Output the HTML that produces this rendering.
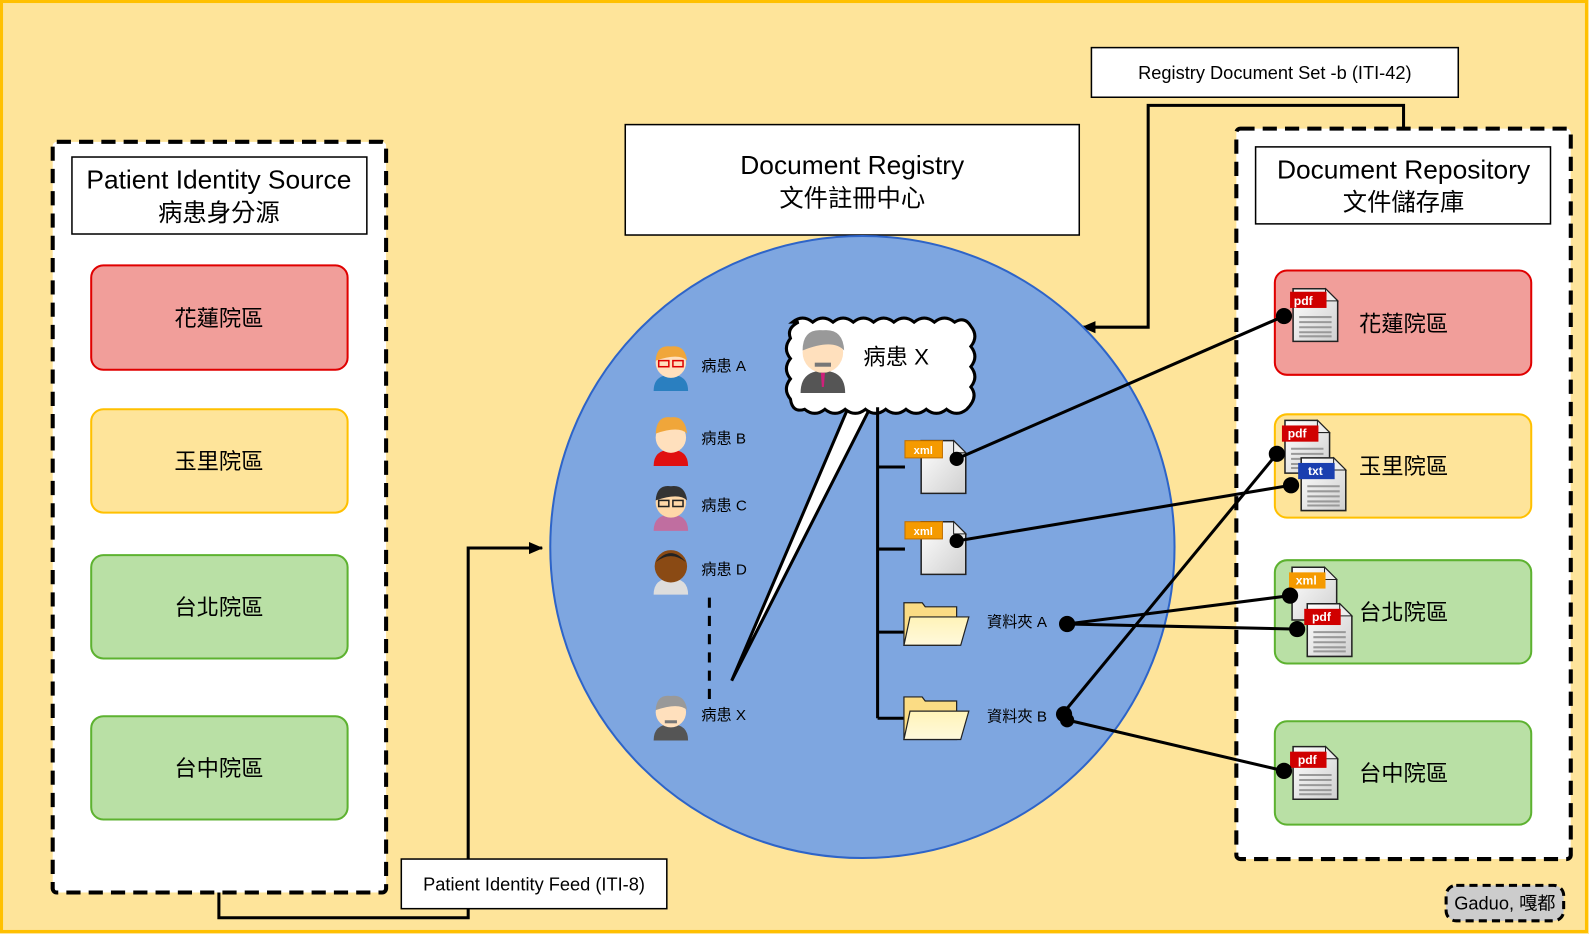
<!DOCTYPE html>
<html><head><meta charset="utf-8"><style>
html,body{margin:0;padding:0;background:#FEE49A;overflow:hidden;width:1589px;height:934px;}
svg{display:block;position:absolute;left:0;top:0;}
text{font-family:"Liberation Sans","Noto Sans CJK TC",sans-serif;}
</style></head><body>
<svg width="1589" height="934" viewBox="0 0 1568 922" preserveAspectRatio="none" xmlns="http://www.w3.org/2000/svg">
<defs>
<linearGradient id="pg" x1="0" y1="0" x2="1" y2="1"><stop offset="0" stop-color="#ffffff"/><stop offset="1" stop-color="#cfcfcf"/></linearGradient>
<linearGradient id="fg" x1="0" y1="0" x2="0" y2="1"><stop offset="0" stop-color="#fff3b8"/><stop offset="1" stop-color="#fff9dc"/></linearGradient>
<g id="page"><polygon points="0,0 32,0 44,12 44,52 0,52" fill="url(#pg)" stroke="#222" stroke-width="1.5"/><polygon points="32,0 32,12 44,12" fill="#eee" stroke="#222" stroke-width="1"/></g>
<g id="lines"><g stroke="#999" stroke-width="2"><line x1="6" y1="28" x2="38" y2="28"/><line x1="6" y1="33" x2="38" y2="33"/><line x1="6" y1="38" x2="38" y2="38"/><line x1="6" y1="43" x2="38" y2="43"/><line x1="6" y1="47" x2="38" y2="47"/></g></g>
<g id="folder"><path d="M0,0 L18,0 L21,4 L52,4 L52,42 L0,42 Z" fill="#fbdc84" stroke="#222" stroke-width="1.2"/><polygon points="6,14 64,14 56,42 0,42" fill="url(#fg)" stroke="#222" stroke-width="1.2"/></g>
<marker id="ar" markerWidth="14" markerHeight="14" refX="13" refY="7" orient="auto" markerUnits="userSpaceOnUse"><polygon points="0,1 14,7 0,13" fill="#000"/></marker>
</defs>
<rect x="1.5" y="1.5" width="1564" height="918" fill="#FEE49A" stroke="#FFC000" stroke-width="3"/>

<polyline points="216,881 216,906 462,906 462,541 535,541" fill="none" stroke="#000" stroke-width="3" marker-end="url(#ar)"/>
<polyline points="1385,127 1385,104 1133,104 1133,323 1068,323" fill="none" stroke="#000" stroke-width="3" marker-end="url(#ar)"/>

<rect x="52" y="140" width="329" height="741" rx="4" fill="#fff" stroke="#000" stroke-width="4" stroke-dasharray="14,8"/>
<rect x="71" y="155" width="291" height="76" fill="#fff" stroke="#000" stroke-width="1.5"/>
<text x="216" y="186" font-size="26" text-anchor="middle">Patient Identity Source</text>
<text x="216" y="218" font-size="24" text-anchor="middle">病患身分源</text>
<rect x="90" y="262" width="253" height="103" rx="12" fill="#F19E9A" stroke="#E00000" stroke-width="2"/>
<text x="216" y="322" font-size="22" text-anchor="middle">花蓮院區</text>
<rect x="90" y="404" width="253" height="102" rx="12" fill="#FEE49A" stroke="#FFC000" stroke-width="2"/>
<text x="216" y="463" font-size="22" text-anchor="middle">玉里院區</text>
<rect x="90" y="548" width="253" height="102" rx="12" fill="#B9E0A5" stroke="#5DB230" stroke-width="2"/>
<text x="216" y="607" font-size="22" text-anchor="middle">台北院區</text>
<rect x="90" y="707" width="253" height="102" rx="12" fill="#B9E0A5" stroke="#5DB230" stroke-width="2"/>
<text x="216" y="766" font-size="22" text-anchor="middle">台中院區</text>

<rect x="1220" y="127" width="330" height="721" rx="4" fill="#fff" stroke="#000" stroke-width="4" stroke-dasharray="14,8"/>
<rect x="1239" y="145" width="291" height="76" fill="#fff" stroke="#000" stroke-width="1.5"/>
<text x="1385" y="176" font-size="26" text-anchor="middle">Document Repository</text>
<text x="1385" y="208" font-size="24" text-anchor="middle">文件儲存庫</text>
<rect x="1258" y="267" width="253" height="103" rx="12" fill="#F19E9A" stroke="#E00000" stroke-width="2"/>
<text x="1385" y="327" font-size="22" text-anchor="middle">花蓮院區</text>
<rect x="1258" y="409" width="253" height="102" rx="12" fill="#FEE49A" stroke="#FFC000" stroke-width="2"/>
<text x="1385" y="468" font-size="22" text-anchor="middle">玉里院區</text>
<rect x="1258" y="553" width="253" height="102" rx="12" fill="#B9E0A5" stroke="#5DB230" stroke-width="2"/>
<text x="1385" y="612" font-size="22" text-anchor="middle">台北院區</text>
<rect x="1258" y="712" width="253" height="102" rx="12" fill="#B9E0A5" stroke="#5DB230" stroke-width="2"/>
<text x="1385" y="771" font-size="22" text-anchor="middle">台中院區</text>

<rect x="617" y="123" width="448" height="109" fill="#fff" stroke="#000" stroke-width="1.5"/>
<text x="841" y="172" font-size="26" text-anchor="middle">Document Registry</text>
<text x="841" y="204" font-size="24" text-anchor="middle">文件註冊中心</text>
<ellipse cx="851" cy="540" rx="308" ry="307" fill="#7EA6E0" stroke="#2E64C8" stroke-width="2"/>

<rect x="1077" y="47" width="362" height="49" fill="#fff" stroke="#000" stroke-width="1.5"/>
<text x="1258" y="78" font-size="18" text-anchor="middle">Registry Document Set -b (ITI-42)</text>
<rect x="396" y="848" width="262" height="49" fill="#fff" stroke="#000" stroke-width="1.5"/>
<text x="527" y="879" font-size="18" text-anchor="middle">Patient Identity Feed (ITI-8)</text>
<rect x="1427" y="874" width="116" height="35" rx="10" fill="#cccccc" stroke="#000" stroke-width="3" stroke-dasharray="8,5"/>
<text x="1485" y="898" font-size="18" text-anchor="middle">Gaduo, 嘎都</text>

<g font-size="15">
<g transform="translate(662,362)"><path d="M-17,24 Q-17,8 0,8 Q17,8 17,24 Z" fill="#2a7fc0"/><circle cx="0" cy="-4" r="15" fill="#ffe0bd"/><path d="M-15,-6 Q-14,-22 0,-20 Q14,-22 16,-6 Q8,-14 -15,-6Z" fill="#f0a63a"/><rect x="-12" y="-6" width="10" height="6" fill="none" stroke="#d00" stroke-width="1.5"/><rect x="2" y="-6" width="10" height="6" fill="none" stroke="#d00" stroke-width="1.5"/></g>
<text x="692" y="366">病患 A</text>
<g transform="translate(662,434)"><path d="M-17,26 Q-17,10 0,10 Q17,10 17,26 Z" fill="#e01010"/><circle cx="0" cy="-2" r="15" fill="#ffe0bd"/><path d="M-15,-6 Q-14,-24 0,-22 Q14,-24 16,-6 Q8,-14 -15,-6Z" fill="#f0a63a"/></g>
<text x="692" y="438">病患 B</text>
<g transform="translate(662,500)"><path d="M-17,24 Q-17,8 0,8 Q17,8 17,24 Z" fill="#c06ea0"/><circle cx="0" cy="-4" r="15" fill="#ffd8a8"/><path d="M-15,-6 Q-14,-22 0,-20 Q14,-22 16,-6 Q8,-14 -15,-6Z" fill="#333"/><rect x="-12" y="-6" width="10" height="6" fill="none" stroke="#222" stroke-width="1.5"/><rect x="2" y="-6" width="10" height="6" fill="none" stroke="#222" stroke-width="1.5"/></g>
<text x="692" y="504">病患 C</text>
<g transform="translate(662,563)"><path d="M-17,24 Q-17,8 0,8 Q17,8 17,24 Z" fill="#ddd"/><circle cx="0" cy="-4" r="16" fill="#8a4a14"/><path d="M-15,-8 Q0,-26 15,-8 Q0,-20 -15,-8Z" fill="#222"/></g>
<text x="692" y="567">病患 D</text>
<line x1="700" y1="590" x2="700" y2="690" stroke="#000" stroke-width="3" stroke-dasharray="10,8"/>
<g transform="translate(662,707)"><path d="M-17,24 Q-17,8 0,8 Q17,8 17,24 Z" fill="#555"/><circle cx="0" cy="-4" r="15" fill="#ffe0bd"/><path d="M-15,-6 Q-14,-22 0,-20 Q14,-22 16,-6 Q8,-14 -15,-6Z" fill="#999"/><rect x="-6" y="4" width="12" height="3" fill="#777"/></g>
<text x="692" y="711">病患 X</text>
</g>

<polygon points="838,400 860,400 722,672" fill="#fff" stroke="#000" stroke-width="3"/>
<path d="M782,318 q10,-8 20,0 q10,-8 20,0 q10,-8 20,0 q10,-8 20,0 q10,-8 20,0 q10,-8 20,0 q10,-8 20,0 q10,-8 20,0 q10,-6 16,4 q8,10 0,20 q8,10 0,20 q8,10 0,20 q8,10 -4,22 q-10,8 -20,0 q-10,8 -20,0 q-10,8 -20,0 q-10,8 -20,0 q-10,8 -20,0 q-10,8 -20,0 q-10,8 -20,0 q-10,8 -20,0 q-12,4 -14,-10 q-8,-10 0,-20 q-8,-10 0,-20 q-8,-10 0,-20 q-4,-10 8,-16 Z" fill="#fff" stroke="#000" stroke-width="3"/>
<g transform="translate(812,352)"><path d="M-22,36 Q-22,14 0,14 Q22,14 22,36 Z" fill="#555"/><circle cx="0" cy="-4" r="20" fill="#ffe0bd"/><path d="M-20,-6 Q-20,-28 0,-26 Q20,-28 21,-6 Q10,-18 -20,-6Z" fill="#999"/><rect x="-8" y="6" width="16" height="4" fill="#777"/><polygon points="-2,16 2,16 1,30 -1,30" fill="#d0207a"/></g>
<text x="852" y="360" font-size="22">病患 X</text>

<g stroke="#000" stroke-width="3" fill="none">
<line x1="866" y1="402" x2="866" y2="709"/>
<line x1="866" y1="461" x2="893" y2="461"/>
<line x1="866" y1="542" x2="893" y2="542"/>
<line x1="866" y1="624" x2="893" y2="624"/>
<line x1="866" y1="709" x2="893" y2="709"/>
</g>
<g transform="translate(909,435)"><use href="#page"/><rect x="-16" y="0" width="37" height="17" fill="#f59a00" stroke="#c07000"/><text x="2" y="13" font-size="11" font-weight="bold" fill="#fff" text-anchor="middle">xml</text></g>
<g transform="translate(909,515)"><use href="#page"/><rect x="-16" y="0" width="37" height="17" fill="#f59a00" stroke="#c07000"/><text x="2" y="13" font-size="11" font-weight="bold" fill="#fff" text-anchor="middle">xml</text></g>
<use href="#folder" transform="translate(892,595)"/>
<use href="#folder" transform="translate(892,688)"/>
<text x="974" y="619" font-size="15">資料夾 A</text>
<text x="974" y="712" font-size="15">資料夾 B</text>

<g transform="translate(1276,285)"><use href="#page"/><use href="#lines"/><rect x="-3" y="3" width="36" height="16" fill="#d00000"/><text x="10" y="16" font-size="12" font-weight="bold" fill="#fff" text-anchor="middle">pdf</text></g>
<g transform="translate(1268,415)"><use href="#page"/><use href="#lines"/><rect x="-3" y="5" width="36" height="16" fill="#d00000"/><text x="12" y="17" font-size="12" font-weight="bold" fill="#fff" text-anchor="middle">pdf</text></g>
<g transform="translate(1284,452)"><use href="#page"/><use href="#lines"/><rect x="-3" y="5" width="36" height="16" fill="#1a3fb0"/><text x="14" y="17" font-size="12" font-weight="bold" fill="#fff" text-anchor="middle">txt</text></g>
<g transform="translate(1275,560)"><use href="#page"/><rect x="-3" y="5" width="36" height="16" fill="#f59a00"/><text x="14" y="17" font-size="12" font-weight="bold" fill="#fff" text-anchor="middle">xml</text></g>
<g transform="translate(1290,596)"><use href="#page"/><use href="#lines"/><rect x="-3" y="5" width="36" height="16" fill="#d00000"/><text x="14" y="17" font-size="12" font-weight="bold" fill="#fff" text-anchor="middle">pdf</text></g>
<g transform="translate(1276,737)"><use href="#page"/><use href="#lines"/><rect x="-3" y="5" width="36" height="16" fill="#d00000"/><text x="14" y="17" font-size="12" font-weight="bold" fill="#fff" text-anchor="middle">pdf</text></g>

<g stroke="#000" stroke-width="3">
<line x1="944" y1="453" x2="1267" y2="312"/>
<line x1="944" y1="534" x2="1274" y2="479"/>
<line x1="1053" y1="616" x2="1273" y2="588"/>
<line x1="1053" y1="616" x2="1280" y2="621"/>
<line x1="1050" y1="703" x2="1260" y2="448"/>
<line x1="1050" y1="710" x2="1267" y2="761"/>
</g>
<g fill="#000">
<circle cx="944" cy="453" r="7"/><circle cx="944" cy="534" r="7"/>
<circle cx="1053" cy="616" r="8"/><circle cx="1050" cy="705" r="8"/><circle cx="1053" cy="711" r="7"/>
<circle cx="1267" cy="312" r="8"/><circle cx="1260" cy="448" r="8"/><circle cx="1274" cy="479" r="8"/>
<circle cx="1273" cy="588" r="8"/><circle cx="1280" cy="621" r="8"/><circle cx="1267" cy="761" r="8"/>
</g>
</svg>
</body></html>
